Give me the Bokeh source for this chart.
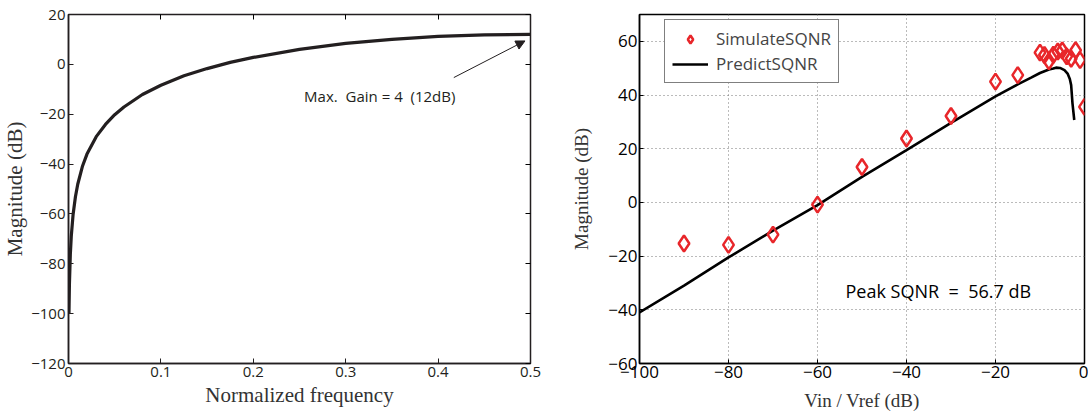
from bokeh.plotting import figure
from bokeh.models import (Range1d, FixedTicker, LinearAxis, Label, Arrow, NormalHead,
                          Legend, LegendItem)
from bokeh.layouts import row
from bokeh.embed import file_html
from bokeh.resources import INLINE

# ---------------- data ----------------
# Left: magnitude response vs normalized frequency
norm_freq = [0.0005, 0.001, 0.002, 0.003, 0.005, 0.0075, 0.01, 0.015, 0.02, 0.03,
             0.04, 0.05, 0.06, 0.08, 0.1, 0.125, 0.15, 0.175, 0.2, 0.25, 0.3,
             0.35, 0.4, 0.45, 0.5]
magnitude_db = [-100.1, -88.1, -76.0, -69.0, -60.1, -53.1, -48.1, -41.0, -36.0, -29.0,
                -24.1, -20.2, -17.1, -12.1, -8.4, -4.6, -1.7, 0.8, 2.8, 6.0, 8.4,
                10.0, 11.2, 11.8, 12.0]

# Right: SQNR vs input level
vin_sim = [-90, -80, -70, -60, -50, -40, -30, -20, -15, -10, -9, -8, -7, -6, -5,
           -4, -3, -2, -1, 0]
sqnr_sim = [-15.3, -15.8, -12.0, -0.8, 13.2, 23.8, 32.2, 45.0, 47.4, 55.8, 54.9,
            52.6, 55.0, 56.2, 56.6, 54.4, 53.5, 56.7, 53.0, 35.6]

vin_pred = [-100, -90, -80, -70, -60, -50, -40, -30, -20, -15, -12, -10, -8, -7,
            -6.4, -5.5, -4.5, -3.8, -3.3, -3.0, -2.7, -2.3]
sqnr_pred = [-41.0, -31.0, -20.5, -10.5, -1.0, 9.5, 19.5, 29.6, 39.5, 44.0, 46.5,
             48.2, 49.5, 49.9, 50.2, 50.1, 49.3, 48.0, 46.0, 43.7, 36.9, 30.7]

left_xticks = [0, 0.1, 0.2, 0.3, 0.4, 0.5]
left_yticks = [-120, -100, -80, -60, -40, -20, 0, 20]
right_xticks = [-100, -80, -60, -40, -20, 0]
right_yticks = [-60, -40, -20, 0, 20, 40, 60]

MINUS = "\u2212"
NBSP = "\u00a0"


def lab(v):
    return ("%g" % v).replace("-", MINUS)


SANS = "Open Sans"
SERIF = "Liberation Serif"

# ---------------- left figure ----------------
p1 = figure(width=553, height=414, output_backend="svg", toolbar_location=None,
            x_range=Range1d(0, 0.5), y_range=Range1d(-120, 20),
            min_border_left=67, min_border_right=23, min_border_top=14,
            min_border_bottom=48)
p1.grid.visible = False
p1.outline_line_color = "#231f20"
p1.outline_line_width = 1.5
p1.background_fill_color = "white"
p1.border_fill_color = "white"

p1.line(norm_freq, magnitude_db, line_color="#231f20", line_width=3.2)

for ax in p1.xaxis:
    ax.ticker = FixedTicker(ticks=left_xticks)
    ax.major_label_overrides = {t: lab(t) for t in left_xticks}
    ax.axis_label = "Normalized frequency"
    ax.axis_label_standoff = 3
for ax in p1.yaxis:
    ax.ticker = FixedTicker(ticks=left_yticks)
    ax.major_label_overrides = {t: lab(t) for t in left_yticks}
    ax.axis_label = "Magnitude (dB)"
    ax.axis_label_standoff = 1
for ax in list(p1.xaxis) + list(p1.yaxis):
    ax.axis_label_text_font = SERIF
    ax.axis_label_text_font_style = "normal"
    ax.axis_label_text_font_size = "21px"
    ax.axis_label_text_color = "#333333"
    ax.major_label_text_font = SANS
    ax.major_label_text_font_size = "15px"
    ax.major_label_text_color = "#231f20"
    ax.major_label_standoff = 3
    ax.major_tick_in = 5
    ax.major_tick_out = 0
    ax.minor_tick_line_color = None
    ax.axis_line_color = "#231f20"
    ax.axis_line_width = 1.5
    ax.major_tick_line_color = "#231f20"

top_ax = LinearAxis(ticker=FixedTicker(ticks=left_xticks), major_label_text_font_size="1px",
                    major_label_text_color=None,
                    major_tick_in=5, major_tick_out=0, minor_tick_line_color=None,
                    axis_line_color="#231f20", major_label_standoff=0)
right_ax = LinearAxis(ticker=FixedTicker(ticks=left_yticks), major_label_text_font_size="1px",
                      major_label_text_color=None,
                      major_tick_in=5, major_tick_out=0, minor_tick_line_color=None,
                      axis_line_color="#231f20", major_label_standoff=0)
p1.add_layout(top_ax, "above")
p1.add_layout(right_ax, "right")

p1.add_layout(Arrow(end=NormalHead(size=9, fill_color="#231f20", line_color="#231f20"),
                    x_start=0.417, y_start=-5.3, x_end=0.494, y_end=9.4,
                    line_color="#231f20", line_width=1))
p1.add_layout(Label(x=0.255, y=-12.5,
                    text="Max." + NBSP + NBSP + "Gain = 4" + NBSP + NBSP + "(12dB)",
                    text_font=SANS, text_font_size="15px", text_color="#231f20",
                    text_baseline="middle", text_align="left"))

# ---------------- right figure ----------------
p2 = figure(width=535, height=414, output_backend="svg", toolbar_location=None,
            x_range=Range1d(-100, 0), y_range=Range1d(-60, 70),
            min_border_left=86, min_border_right=4, min_border_top=13,
            min_border_bottom=51)
p2.outline_line_color = "black"
p2.outline_line_width = 1.5
p2.background_fill_color = "white"
p2.border_fill_color = "white"

for ax in p2.xaxis:
    ax.ticker = FixedTicker(ticks=right_xticks)
    ax.major_label_overrides = {t: lab(t) for t in right_xticks}
    ax.axis_label = "Vin / Vref (dB)"
for ax in p2.yaxis:
    ax.ticker = FixedTicker(ticks=right_yticks)
    ax.major_label_overrides = {t: lab(t) for t in right_yticks}
    ax.axis_label = "Magnitude (dB)"
for ax in list(p2.xaxis) + list(p2.yaxis):
    ax.axis_label_text_font = SERIF
    ax.axis_label_text_font_style = "normal"
    ax.axis_label_text_font_size = "19px"
    ax.axis_label_text_color = "#333333"
    ax.major_label_text_font = SANS
    ax.major_label_text_font_size = "17px"
    ax.major_label_text_color = "black"
    ax.major_label_standoff = 2
    ax.major_tick_in = 4
    ax.major_tick_out = 0
    ax.minor_tick_line_color = None
    ax.axis_line_color = "black"
    ax.axis_line_width = 1.5
p2.yaxis.axis_label_standoff = 13
p2.xaxis.axis_label_standoff = 9
for g in p2.grid:
    g.grid_line_color = "#777777"
    g.grid_line_dash = "1 3"
    g.grid_line_width = 1
p2.xgrid.ticker = FixedTicker(ticks=right_xticks)
p2.ygrid.ticker = FixedTicker(ticks=right_yticks)

r_pred = p2.line(vin_pred, sqnr_pred, line_color="black", line_width=2.6)
r_sim = p2.scatter(vin_sim, sqnr_sim, marker="diamond", size=16, fill_color=None,
                   line_color="#e8262a", line_width=2.5)

p2.add_layout(Label(x=-53.7, y=-32.9,
                    text="Peak SQNR" + NBSP + NBSP + "=" + NBSP + NBSP + "56.7 dB",
                    text_font=SANS, text_font_size="18px", text_color="black",
                    text_baseline="middle", text_align="left"))

legend = Legend(items=[LegendItem(label="SimulateSQNR", renderers=[r_sim]),
                       LegendItem(label="PredictSQNR", renderers=[r_pred])],
                location=(25, 280), padding=7, spacing=2, glyph_width=36,
                glyph_height=20, label_height=20, label_standoff=8,
                label_text_font=SANS, label_text_font_size="17px",
                border_line_color="black", border_line_width=1.2,
                background_fill_color="white", background_fill_alpha=1,
                margin=0)
p2.add_layout(legend, "center")

layout = row(p1, p2)
open("out.html", "w").write(file_html(layout, INLINE))
